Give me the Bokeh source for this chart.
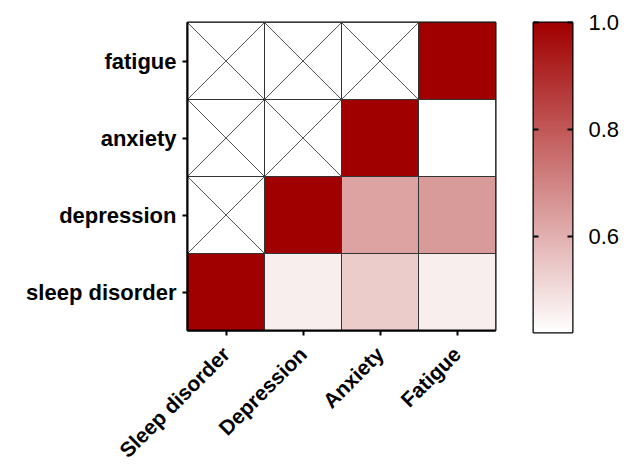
import numpy as np
from bokeh.plotting import figure
from bokeh.models import (ColumnDataSource, LinearColorMapper, LinearAxis, FixedTicker,
                          Range1d, FactorRange, PrintfTickFormatter)
from bokeh.transform import dodge
from bokeh.layouts import row
from bokeh.embed import file_html
from bokeh.resources import INLINE

# ---- data ----
col_labels = ["Sleep disorder", "Depression", "Anxiety", "Fatigue"]
row_labels = ["sleep disorder", "depression", "anxiety", "fatigue"]  # bottom to top
sleep_row = [1.0, 0.46, 0.54, 0.46]
depression_row = [None, 1.0, 0.63, 0.65]
anxiety_row = [None, None, 1.0, 0.42]
fatigue_row = [None, None, None, 1.0]
matrix = [sleep_row, depression_row, anxiety_row, fatigue_row]
cb_ticks = [0.6, 0.8, 1.0]
cb_low, cb_high = 0.42, 1.0

# ---- colormap white -> dark red ----
def interp(c0, c1, n):
    out = []
    for t in np.linspace(0, 1, n):
        r = int(round(c0[0] + (c1[0] - c0[0]) * t))
        g = int(round(c0[1] + (c1[1] - c0[1]) * t))
        b = int(round(c0[2] + (c1[2] - c0[2]) * t))
        out.append("#%02x%02x%02x" % (r, g, b))
    return out

palette = interp((255, 255, 255), (160, 0, 0), 256)
mapper = LinearColorMapper(palette=palette, low=cb_low, high=cb_high)

cx, cy, cv, xx, xy = [], [], [], [], []
for r, vals in zip(row_labels, matrix):
    for c, v in zip(col_labels, vals):
        if v is None:
            xx.append(c); xy.append(r)
        else:
            cx.append(c); cy.append(r); cv.append(v)

cells = ColumnDataSource(dict(col=cx, row=cy, val=cv))
crossed = ColumnDataSource(dict(col=xx, row=xy))

FONT = "Liberation Sans"

p = figure(frame_width=308, frame_height=308, x_range=FactorRange(*col_labels),
           y_range=FactorRange(*row_labels), output_backend="svg", toolbar_location=None,
           min_border_left=187, min_border_right=30, min_border_top=22, min_border_bottom=100)

p.rect(x="col", y="row", width=1, height=1, source=cells,
       fill_color={"field": "val", "transform": mapper}, line_color="#333333", line_width=1)
p.rect(x="col", y="row", width=1, height=1, source=crossed,
       fill_color="white", line_color="#333333", line_width=1)
p.segment(x0=dodge("col", -0.5, range=p.x_range), y0=dodge("row", -0.5, range=p.y_range),
          x1=dodge("col", 0.5, range=p.x_range), y1=dodge("row", 0.5, range=p.y_range),
          source=crossed, line_color="#555555", line_width=1)
p.segment(x0=dodge("col", -0.5, range=p.x_range), y0=dodge("row", 0.5, range=p.y_range),
          x1=dodge("col", 0.5, range=p.x_range), y1=dodge("row", -0.5, range=p.y_range),
          source=crossed, line_color="#555555", line_width=1)

p.grid.visible = False
p.outline_line_color = "black"
p.outline_line_width = 2
for ax in (p.xaxis[0], p.yaxis[0]):
    ax.axis_line_width = 2
    ax.axis_line_color = "black"
    ax.major_tick_line_width = 2
    ax.major_tick_out = 5
    ax.major_tick_in = 0
    ax.major_label_text_font = FONT
    ax.major_label_text_font_style = "bold"
    ax.major_label_text_font_size = "22px"
    ax.major_label_text_color = "black"
p.xaxis.major_label_text_font_size = "21px"
p.yaxis.major_label_standoff = 6
p.xaxis.major_label_standoff = 15
p.xaxis.major_label_orientation = np.pi / 4
p.background_fill_color = "white"
p.border_fill_color = "white"

# ---- colour bar figure ----
cb = figure(frame_width=39, frame_height=310, x_range=Range1d(0, 1),
            y_range=Range1d(cb_low, cb_high),
            output_backend="svg", toolbar_location=None, y_axis_location="right",
            min_border_left=8, min_border_right=58, min_border_top=22, min_border_bottom=100)
grad = np.linspace(cb_low, cb_high, 256).reshape(-1, 1)
cb.image(image=[grad], x=0, y=cb_low, dw=1, dh=cb_high - cb_low, color_mapper=mapper)
cb.xaxis.visible = False
cb.grid.visible = False
cb.outline_line_color = "black"
cb.outline_line_width = 2
ra = cb.yaxis[0]
ra.ticker = FixedTicker(ticks=cb_ticks)
ra.formatter = PrintfTickFormatter(format="%.1f")
ra.axis_line_color = None
ra.major_tick_in = 5
ra.major_tick_out = 0
ra.major_tick_line_width = 2
ra.minor_tick_line_color = None
ra.major_label_standoff = 16
ra.major_label_text_font = FONT
ra.major_label_text_font_size = "22px"
ra.major_label_text_color = "black"
la = LinearAxis(ticker=FixedTicker(ticks=cb_ticks), axis_line_color=None, major_tick_in=5,
                major_tick_out=0, major_tick_line_width=2, minor_tick_line_color=None,
                major_label_overrides={t: "" for t in cb_ticks})
cb.add_layout(la, "left")

layout = row(p, cb)
open("out.html", "w").write(file_html(layout, INLINE))
